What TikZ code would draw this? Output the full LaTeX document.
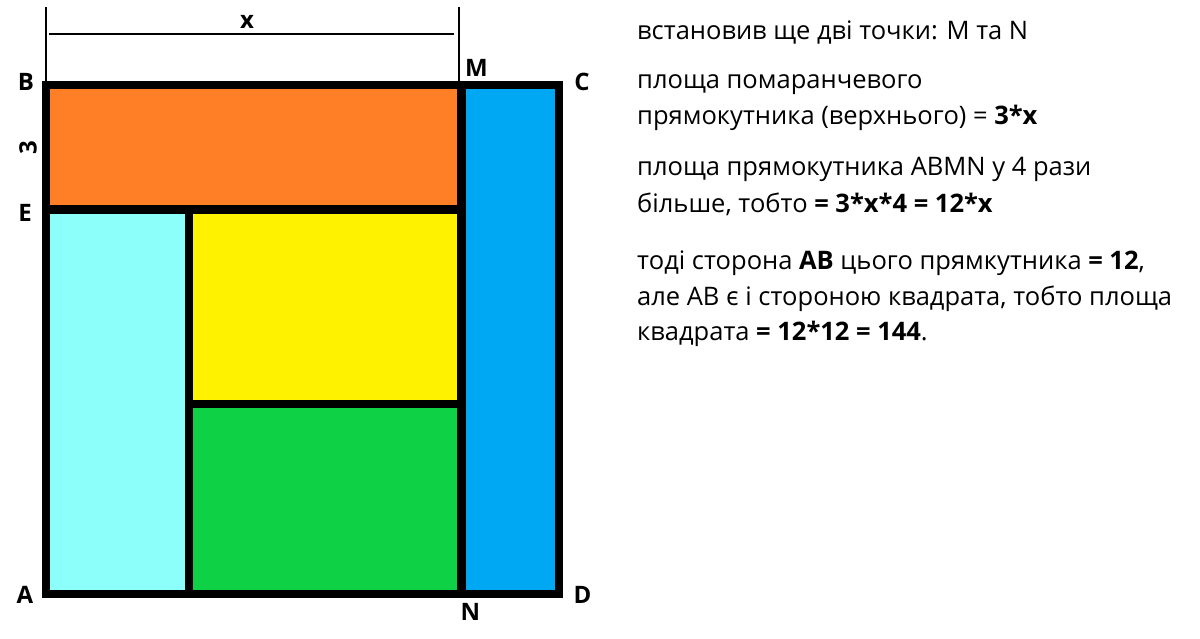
\documentclass[tikz,border=0pt]{standalone}
\usepackage{fontspec}
\setmainfont{Open Sans}
\usetikzlibrary{positioning}
\definecolor{fillOrange}{HTML}{FF7F27}
\definecolor{fillBlue}{HTML}{00A8F3}
\definecolor{fillCyan}{HTML}{8CFFFB}
\definecolor{fillYellow}{HTML}{FFF200}
\definecolor{fillGreen}{HTML}{0ED145}

\begin{document}
\begin{tikzpicture}[x=1pt, y=-1pt,
  wall/.style={line width=8.5pt},
  dimline/.style={line width=1.8pt},
  lbl/.style={inner sep=0pt, font=\fontsize{24}{28}\selectfont\bfseries},
  txt/.style={anchor=mid west, inner sep=0pt, font=\fontsize{25.5}{30}\selectfont}]
\useasboundingbox (0,0) rectangle (1200,639);
% corners of the square and the extra points
\coordinate (A) at (46,594);
\coordinate (B) at (46,85);
\coordinate (C) at (559,85);
\coordinate (D) at (559,594);
\coordinate (M) at (461.5,85);
\coordinate (N) at (461.5,594);
\coordinate (E) at (46,209.5);
\coordinate (EM) at (461.5,209.5);
\coordinate (F) at (189,209.5);
\coordinate (G) at (189,594);
\coordinate (H) at (189,404);
\coordinate (K) at (461.5,404);
% coloured parts
\fill[fillOrange] (B) rectangle (EM);
\fill[fillBlue] (M) rectangle (D);
\fill[fillCyan] (E) rectangle (G);
\fill[fillYellow] (F) rectangle (K);
\fill[fillGreen] (H) rectangle (N);
% black lines
\draw[wall, line join=miter] (A) rectangle (C);
\draw[wall] (M) -- (N);
\draw[wall] (E) -- (EM);
\draw[wall] (F) -- (G);
\draw[wall] (H) -- (K);
% dimension x
\coordinate (X1) at (46,7);
\coordinate (X2) at (459,7);
\coordinate (X3) at (459,83);
\coordinate (X4) at (49,34);
\coordinate (X5) at (454,34);
\draw[dimline] (X1) -- (B);
\draw[dimline] (X2) -- (X3);
\draw[dimline] (X4) -- (X5);
\node[lbl] (labX) at (247,22) {x};
% point labels
\node[lbl] (labB) at (26,82) {B};
\node[lbl] (labC) at (582,82) {C};
\node[lbl] (labE) at (25,213) {E};
\node[lbl] (labA) at (25,595) {A};
\node[lbl] (labD) at (582.5,595) {D};
\node[lbl] (labM) at (476.5,67.5) {M};
\node[lbl] (labN) at (470.5,612) {N};
\node[lbl, rotate=90] (lab3) at (28,148) {3};
% explanation
\node[txt] (t1) at (637,37) {встановив ще дві точки: M та N};
\node[txt] (t2) at (637,86) {площа помаранчевого};
\node[txt] (t3) at (637,122) {прямокутника (верхнього) = \textbf{3*x}};
\node[txt] (t4) at (637,173) {площа прямокутника ABMN у 4 рази};
\node[txt] (t5) at (637,210) {більше, тобто \textbf{= 3*x*4 = 12*x}};
\node[txt] (t6) at (637,267) {тоді сторона \textbf{АВ} цього прямкутника \textbf{= 12},};
\node[txt] (t7) at (637,303) {але АВ є і стороною квадрата, тобто площа};
\node[txt] (t8) at (637,338) {квадрата \textbf{= 12*12 = 144}.};
\end{tikzpicture}
\end{document}
